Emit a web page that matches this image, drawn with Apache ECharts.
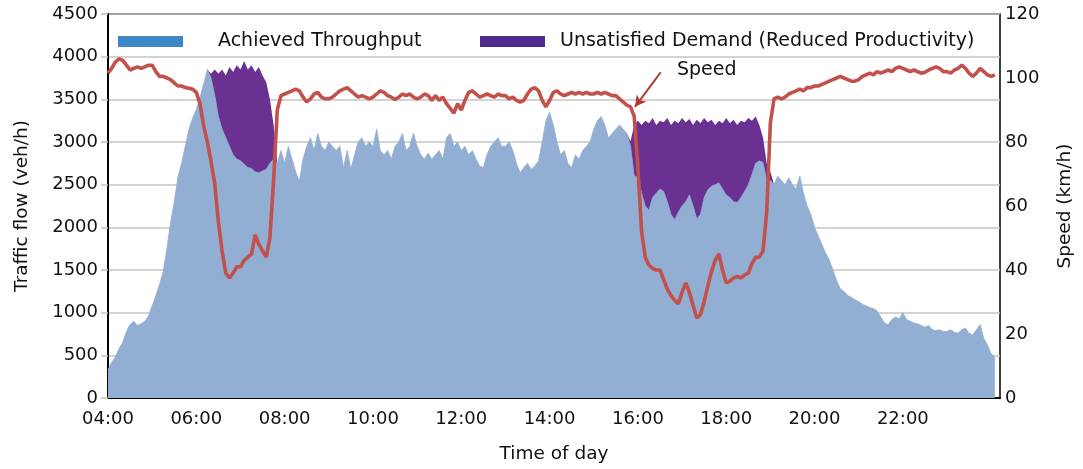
<!DOCTYPE html>
<html>
<head>
<meta charset="utf-8">
<script src="https://cdn.jsdelivr.net/npm/echarts@6/dist/echarts.min.js"></script>
<style>
  html, body { margin: 0; padding: 0; background: #fff; }
  #chart { width: 1083px; height: 469px; }
</style>
</head>
<body>
<div id="chart"></div>
<script>
// 5-minute samples starting 04:00 (minutes after midnight)
const startMinute = 240;
const stepMinutes = 5;

// achieved throughput (veh/h), one row per hour 04..23, then 24:00, 24:05
const throughput = [
  330, 420, 480, 580, 650, 780, 860, 900, 850, 870, 900, 960,
  1080, 1200, 1330, 1480, 1750, 2050, 2300, 2590, 2750, 2950, 3150, 3280,
  3380, 3520, 3680, 3850, 3750, 3550, 3300, 3150, 3050, 2950, 2850, 2800,
  2780, 2740, 2700, 2690, 2650, 2640, 2660, 2680, 2750, 2800, 2750, 2900,
  2750, 2950, 2800, 2650, 2540, 2800, 2950, 3050, 2900, 3100, 2950, 2900,
  3000, 2950, 2900, 2950, 2700, 2900, 2680, 2850, 3000, 3050, 2950, 3000,
  2950, 3150, 2900, 2850, 2900, 2800, 2950, 3000, 3100, 2900, 2950, 3100,
  2950, 2850, 2800, 2870, 2800, 2850, 2900, 2800, 3050, 3100, 2950, 3000,
  2900, 2950, 2850, 2900, 2800, 2720, 2700, 2850, 2950, 3000, 3050, 2950,
  2950, 3000, 2900, 2750, 2640, 2700, 2750, 2680, 2720, 2780, 3000, 3250,
  3350, 3200, 3000, 2850, 2900, 2750, 2700, 2850, 2800, 2900, 2950, 3000,
  3150, 3250, 3300, 3200, 3050, 3100, 3150, 3200, 3150, 3100, 2950, 2600,
  2590, 2400, 2250, 2200, 2350, 2400, 2450, 2420, 2300, 2150, 2090, 2180,
  2250, 2300, 2380, 2250, 2100, 2150, 2350, 2440, 2480, 2500, 2520, 2450,
  2380, 2350, 2300, 2290, 2350, 2420, 2500, 2620, 2750, 2780, 2760, 2550,
  2550, 2500, 2600, 2550, 2500, 2580, 2500, 2450, 2600, 2400, 2250, 2150,
  2000, 1900, 1800, 1700, 1620, 1500, 1380, 1280, 1250, 1200, 1180, 1150,
  1130, 1100, 1080, 1060, 1050, 1020, 950, 880, 860, 920, 950, 930,
  1000, 920, 900, 880, 870, 850, 830, 850, 800, 790, 800, 780,
  780, 800, 770, 760, 800, 820, 760, 740, 800, 860, 700, 620,
  520, 480
];

// unsatisfied demand on top of throughput (veh/h)
const morningStart = 380;   // 06:20
const unsatMorning = [
  50, 300, 500, 700, 730, 930, 970, 1100, 1070, 1210, 1150, 1210,
  1170, 1240, 1120, 1020, 750, 400
];
const eveningStart = 950;   // 15:50
const unsatEvening = [
  60, 600, 660, 800, 1000, 1020, 930, 800, 800, 810, 980, 1050,
  1160, 1040, 1030, 930, 890, 950, 1160, 1070, 930, 790, 780, 700,
  730, 770, 900, 870, 960, 910, 900, 810, 780, 630, 550, 420,
  290, 200, 100
];

// speed (km/h), same timestamps as throughput
const speed = [
  101.5, 103, 105, 106, 105.5, 104, 102.5, 103, 103.5, 103, 103.5, 104,
  104, 102, 100.5, 100.5, 100, 99.5, 98.5, 97.5, 97.5, 97, 96.8, 96.5,
  95.5, 92, 85, 80, 74, 67, 55, 46, 39, 37.5, 39, 41,
  41, 43, 44, 45, 51, 48, 46, 44, 50, 68, 90, 94.5,
  95, 95.5, 96, 96.5, 96, 94, 92.5, 93.5, 95, 95.5, 94, 93.5,
  93.5, 94, 95, 96, 96.5, 97, 96, 95, 94, 94.5, 94, 93.5,
  94, 95, 96, 95.5, 94.5, 94, 93.3, 94, 95, 94.5, 95, 94,
  93.5, 94, 95, 94.5, 93, 94.5, 93, 94, 92, 90.5, 89, 92,
  90, 93, 95.5, 96, 95, 94, 94.5, 95, 94.5, 94, 95, 94.5,
  94.5, 93.5, 94, 93, 92.5, 93, 95, 96.5, 97, 96, 93, 91,
  93, 95.5, 96, 95, 94.5, 95, 95.5, 95, 95.5, 95, 95.5, 95,
  95, 95.5, 95, 95.5, 95, 94.5, 94.5, 93.5, 92.5, 91.5, 91, 88,
  72, 52, 44, 41.5, 40.5, 40, 40, 37, 34, 32, 30.5, 29.5,
  33, 36, 33, 29, 25, 26, 30, 35, 39.5, 43, 45, 40,
  36, 36.5, 37.5, 38, 37.5, 38.5, 39, 42, 44, 44, 46, 58,
  86, 93.5, 94, 93.5, 94, 95, 95.5, 96, 96.5, 96, 97, 97,
  97.5, 97.5, 98, 98.5, 99, 99.5, 100, 100.5, 100, 99.5, 99, 99,
  99.5, 100.5, 101, 101.5, 101, 102, 101.5, 102, 102.5, 102, 103, 103.5,
  103, 102.5, 102, 102.5, 102, 101.5, 101.8, 102.5, 103, 103.5, 103, 102,
  102, 101.5, 102.5, 103, 104, 103, 101.5, 100.5, 101.5, 103, 102, 101,
  100.5, 101
];

// arrow pointing at the speed curve: [minute, km/h] tail and head
const arrowTail = [991, 101.8];
const arrowHead = [956, 91];

const FONT = "DejaVu Sans";

const minutes = throughput.map((_, i) => startMinute + i * stepMinutes);

// position inside an unsatisfied-demand window (one step of margin each side)
function windowIndex(m, start, list) {
  const i = (m - start) / stepMinutes;
  return i >= -1 && i <= list.length ? i : null;
}

// total demand = throughput + unsatisfied, only around the congested windows
const demandData = minutes.map((m, i) => {
  const i1 = windowIndex(m, morningStart, unsatMorning);
  if (i1 !== null) return [m, throughput[i] + (unsatMorning[i1] || 0)];
  const i2 = windowIndex(m, eveningStart, unsatEvening);
  if (i2 !== null) return [m, throughput[i] + (unsatEvening[i2] || 0)];
  return [m, null];
});

function fmtTime(v) {
  if (v >= 1440) return "";
  const h = Math.floor(v / 60);
  const m = v % 60;
  return String(h).padStart(2, "0") + ":" + String(m).padStart(2, "0");
}

const chart = echarts.init(document.getElementById("chart"));

const gridColor = "#c4c4c4";

const option = {
  animation: false,
  backgroundColor: "#fff",
  textStyle: { fontFamily: FONT },
  grid: {
    left: 108, right: 79, top: 14, bottom: 71,
    show: true, borderColor: "#000", borderWidth: 1.5,
    backgroundColor: "transparent"
  },
  legend: [
    {
      left: 118, top: 32, padding: 0,
      icon: "rect", itemWidth: 65, itemHeight: 11,
      textStyle: { fontSize: 19, color: "#111", fontFamily: FONT, padding: [0, 0, 0, 30] },
      data: [{ name: "Achieved Throughput", itemStyle: { color: "#3d87c6" } }]
    },
    {
      left: 480, top: 32, padding: 0,
      icon: "rect", itemWidth: 65, itemHeight: 11,
      textStyle: { fontSize: 19, color: "#111", fontFamily: FONT, padding: [0, 0, 0, 10] },
      data: [{ name: "Unsatisfied Demand (Reduced Productivity)", itemStyle: { color: "#4f2c8d" } }]
    }
  ],
  xAxis: {
    type: "value",
    min: 240, max: 1452, interval: 120,
    name: "Time of day", nameLocation: "middle", nameGap: 47,
    nameTextStyle: { fontSize: 18.5, color: "#111", fontFamily: FONT },
    axisLine: { show: true, onZero: false, lineStyle: { color: "#000", width: 2 } },
    axisTick: { show: false },
    splitLine: { show: false },
    axisLabel: {
      fontSize: 18, color: "#111", fontFamily: FONT, margin: 12,
      formatter: fmtTime, showMaxLabel: false
    }
  },
  yAxis: [
    {
      type: "value",
      min: 0, max: 4500, interval: 500,
      name: "Traffic flow (veh/h)", nameLocation: "middle", nameGap: 76,
      nameTextStyle: { fontSize: 18.5, color: "#111", fontFamily: FONT },
      axisLine: { show: true, lineStyle: { color: "#000", width: 2 } },
      axisTick: { show: true, length: 7, lineStyle: { color: gridColor, width: 1.5 } },
      splitLine: { show: true, lineStyle: { color: gridColor, width: 1.5 } },
      axisLabel: {
        fontSize: 18, color: "#111", fontFamily: FONT, margin: 10,
        formatter: (v) => String(v)
      }
    },
    {
      type: "value",
      min: 0, max: 120, interval: 20,
      name: "Speed (km/h)", nameLocation: "middle", nameGap: 56,
      nameTextStyle: { fontSize: 18.5, color: "#111", fontFamily: FONT },
      axisLine: { show: false },
      axisTick: { show: false },
      splitLine: { show: false },
      axisLabel: { fontSize: 18, color: "#111", fontFamily: FONT, margin: 5 }
    }
  ],
  series: [
    {
      name: "Unsatisfied Demand (Reduced Productivity)",
      type: "line",
      showSymbol: false,
      symbol: "none",
      connectNulls: false,
      lineStyle: { width: 0 },
      itemStyle: { color: "#6a3092" },
      areaStyle: { color: "#6a3092", opacity: 1 },
      data: demandData,
      z: 2
    },
    {
      name: "Achieved Throughput",
      type: "line",
      showSymbol: false,
      symbol: "none",
      lineStyle: { width: 0.8, color: "#92aed2" },
      itemStyle: { color: "#92aed2" },
      areaStyle: { color: "#92aed2", opacity: 1 },
      data: minutes.map((m, i) => [m, throughput[i]]),
      z: 3
    },
    {
      name: "Speed",
      type: "line",
      yAxisIndex: 1,
      showSymbol: false,
      symbol: "none",
      lineStyle: { width: 3.6, color: "#c2504b" },
      itemStyle: { color: "#c2504b" },
      data: minutes.map((m, i) => [m, speed[i]]),
      z: 5,
      markLine: {
        silent: true,
        symbol: ["none", "arrow"],
        symbolSize: [9, 11],
        label: { show: false },
        lineStyle: { color: "#ad3a2e", width: 2, type: "solid" },
        data: [[{ coord: arrowTail }, { coord: arrowHead }]]
      }
    }
  ],
  graphic: [
    {
      type: "text",
      left: 677, top: 61,
      style: { text: "Speed", fontSize: 19, fontFamily: FONT, fill: "#111" },
      z: 10
    }
  ]
};

chart.setOption(option);
</script>
</body>
</html>
